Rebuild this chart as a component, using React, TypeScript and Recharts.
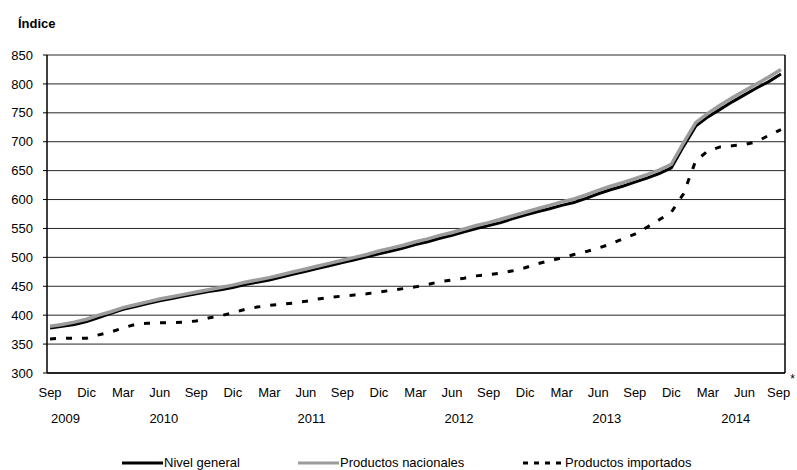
import { LineChart, Line, XAxis, YAxis, CartesianGrid, ReferenceLine } from 'recharts';

// Monthly index values, Sep 2009 (0) .. Sep 2014 (60)
const nivelGeneral = [
  378, 381, 384, 389, 396, 403, 410, 415, 420, 425, 429, 433, 437, 441, 444, 448,
  453, 457, 461, 466, 471, 476, 481, 486, 491, 496, 501, 506, 511, 516, 522, 527,
  533, 538, 544, 550, 555, 560, 567, 573, 579, 584, 590, 595, 602, 610, 617, 623,
  630, 637, 645, 655, 692, 727, 743, 756, 769, 781, 793, 804, 817,
];

const productosNacionales = [
  381, 384, 388, 393, 400, 406, 413, 418, 423, 428, 432, 436, 440, 444, 448, 452,
  457, 461, 465, 470, 475, 480, 485, 490, 495, 500, 505, 511, 516, 521, 527, 532,
  538, 543, 549, 555, 560, 566, 572, 578, 584, 590, 596, 601, 608, 616, 623, 629,
  636, 643, 651, 661, 698, 733, 749, 763, 776, 788, 800, 812, 825,
];

const productosImportados = [
  359, 360, 360, 360, 366, 371, 378, 384, 386, 387, 387, 388, 390, 395, 399, 404,
  410, 414, 417, 419, 421, 424, 428, 431, 433, 435, 437, 440, 443, 446, 449, 453,
  458, 461, 464, 468, 470, 473, 477, 482, 489, 494, 499, 505, 510, 516, 523, 532,
  540, 552, 565, 578, 610, 667, 684, 691, 693, 695, 700, 711, 721,
];

const quarterLabels = [
  'Sep', 'Dic', 'Mar', 'Jun', 'Sep', 'Dic', 'Mar', 'Jun', 'Sep', 'Dic', 'Mar',
  'Jun', 'Sep', 'Dic', 'Mar', 'Jun', 'Sep', 'Dic', 'Mar', 'Jun', 'Sep',
];
const quarterTicks = quarterLabels.map((_, i) => i * 3);

const yearLabels = ['2009', '2010', '2011', '2012', '2013', '2014'];
const yearTicks = [1.5, 9.5, 21.5, 33.5, 45.5, 56];

const yTicks = [300, 350, 400, 450, 500, 550, 600, 650, 700, 750, 800, 850];

const data = nivelGeneral.map((v, i) => ({
  m: i,
  general: v,
  nacionales: productosNacionales[i],
  importados: productosImportados[i],
}));

const FONT = '"Liberation Sans", Arial, sans-serif';
const xDomain: [number, number] = [-0.25, 60.33];

function MonthTick({ x, y, payload }: { x?: number; y?: number; payload?: { value: number } }) {
  const i = Math.round((payload?.value ?? 0) / 3);
  const last = i === quarterLabels.length - 1;
  return (
    <text x={x} y={y} dy="0.71em" textAnchor="middle" fontSize={13} fill="#000" fontFamily={FONT}>
      {quarterLabels[i]}
      {last && (
        <tspan dy={-14} fontSize={12}>
          *
        </tspan>
      )}
    </text>
  );
}

function LegendItem({ left, label, color, dash }: { left: number; label: string; color: string; dash?: string }) {
  return (
    <div style={{ position: 'absolute', left, top: 0, display: 'flex', alignItems: 'center' }}>
      <svg width={42} height={8}>
        <line x1={0} y1={4} x2={41} y2={4} stroke={color} strokeWidth={3} strokeDasharray={dash} />
      </svg>
      <span style={{ fontSize: 13, lineHeight: '15px' }}>{label}</span>
    </div>
  );
}

export default function App() {
  return (
    <div style={{ position: 'absolute', left: 0, top: 0, width: 797, height: 470, fontFamily: FONT, background: '#fff' }}>
      <div style={{ position: 'absolute', left: 18, top: 16, fontSize: 13, fontWeight: 'bold', lineHeight: '15px' }}>
        Índice
      </div>
      <LineChart width={797} height={470} data={data} margin={{ top: 55, right: 12, left: 0, bottom: 37 }}>
        <CartesianGrid vertical={false} stroke="#000" strokeOpacity={0.85} />
        <XAxis
          dataKey="m"
          type="number"
          domain={xDomain}
          ticks={quarterTicks}
          interval={0}
          tick={<MonthTick />}
          tickSize={0}
          tickMargin={15}
          height={30}
          axisLine={{ stroke: '#000', strokeWidth: 1.5 }}
          allowDataOverflow
        />
        <XAxis
          xAxisId="year"
          type="number"
          domain={xDomain}
          ticks={yearTicks}
          interval={0}
          tickFormatter={(v: number) => yearLabels[yearTicks.indexOf(v)]}
          tick={{ fontSize: 13, fill: '#000', fontFamily: FONT }}
          tickSize={0}
          tickMargin={11}
          height={30}
          axisLine={false}
          allowDataOverflow
        />
        <YAxis
          domain={[300, 850]}
          ticks={yTicks}
          interval={0}
          width={47}
          tickSize={4}
          tickMargin={10}
          tick={{ fontSize: 13, fill: '#000', fontFamily: FONT }}
          tickLine={{ stroke: '#000' }}
          axisLine={{ stroke: '#000', strokeWidth: 1.5 }}
        />
        <ReferenceLine x={xDomain[1]} stroke="#000" strokeWidth={1.5} ifOverflow="extendDomain" />
        <Line
          type="linear"
          dataKey="importados"
          stroke="#000"
          strokeWidth={3}
          strokeDasharray="6 10"
          dot={false}
          isAnimationActive={false}
        />
        <Line
          type="linear"
          dataKey="general"
          stroke="#000"
          strokeWidth={3}
          dot={false}
          isAnimationActive={false}
        />
        <Line
          type="linear"
          dataKey="nacionales"
          stroke="#9c9c9c"
          strokeWidth={3.5}
          dot={false}
          isAnimationActive={false}
        />
      </LineChart>
      <div style={{ position: 'absolute', left: 0, top: 455, width: 797, height: 15 }}>
        <LegendItem left={122} label="Nivel general" color="#000" />
        <LegendItem left={298} label="Productos nacionales" color="#9c9c9c" />
        <LegendItem left={523} label="Productos importados" color="#000" dash="5 6" />
      </div>
    </div>
  );
}
